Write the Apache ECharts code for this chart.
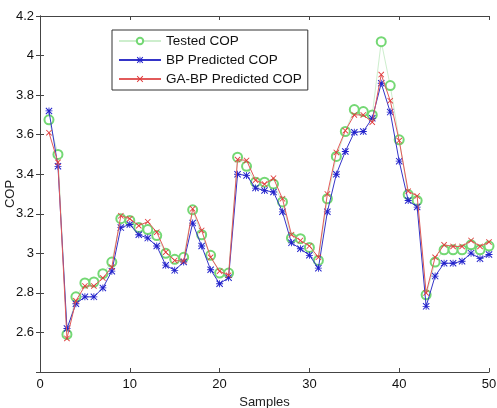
<!DOCTYPE html>
<html lang="en">
<head>
    <meta charset="UTF-8">
    <title>COP</title>
    <script src="https://cdn.jsdelivr.net/npm/echarts@6/dist/echarts.min.js"></script>
    <style>
        body { margin: 0; background: #fff; }
    </style>
</head>
<body>
<div style="width:497px;height:408px" id="picture"></div>
<script>
    // values, sample 1..50
    var samples = [];
    for (var i = 1; i <= 50; i++) samples.push(i);

    var tested = [3.675, 3.50, 2.59, 2.78, 2.85, 2.855, 2.897, 2.956, 3.175, 3.166,
        3.13, 3.12, 3.09, 3.00, 2.97, 2.98, 3.22, 3.094, 2.99, 2.90,
        2.90, 3.486, 3.44, 3.36, 3.36, 3.35, 3.26, 3.077, 3.074, 3.03,
        2.964, 3.276, 3.49, 3.616, 3.727, 3.717, 3.70, 4.07, 3.848, 3.574,
        3.297, 3.267, 2.79, 2.956, 3.018, 3.018, 3.018, 3.043, 3.018, 3.037];

    var bp = [3.72, 3.44, 2.62, 2.745, 2.78, 2.78, 2.825, 2.91, 3.13, 3.146,
        3.094, 3.077, 3.037, 2.94, 2.914, 2.956, 3.153, 3.037, 2.917, 2.846,
        2.877, 3.40, 3.394, 3.33, 3.318, 3.31, 3.21, 3.053, 3.023, 2.99,
        2.925, 3.21, 3.40, 3.515, 3.612, 3.616, 3.683, 3.86, 3.714, 3.466,
        3.267, 3.234, 2.732, 2.885, 2.95, 2.95, 2.96, 3.001, 2.973, 2.994];

    var gabp = [3.61, 3.46, 2.57, 2.76, 2.835, 2.835, 2.875, 2.93, 3.19, 3.175,
        3.14, 3.16, 3.107, 3.006, 2.964, 2.96, 3.225, 3.116, 2.98, 2.91,
        2.889, 3.474, 3.47, 3.37, 3.35, 3.38, 3.276, 3.094, 3.065, 3.037,
        2.98, 3.30, 3.51, 3.62, 3.70, 3.70, 3.663, 3.904, 3.772, 3.57,
        3.314, 3.29, 2.80, 2.98, 3.043, 3.035, 3.035, 3.065, 3.035, 3.057];

    var names = ['Tested COP', 'BP Predicted COP', 'GA-BP Predicted COP'];

    function pairs(arr) {
        var out = [];
        for (var k = 0; k < arr.length; k++) out.push([samples[k], arr[k]]);
        return out;
    }

    // matlab-ish markers
    var crossPath = 'path://M0,1 L1,0 L10,9 L9,10 Z M9,0 L10,1 L1,10 L0,9 Z';
    var starPath = 'path://M0,1 L1,0 L10,9 L9,10 Z M9,0 L10,1 L1,10 L0,9 Z M4.4,0 L5.6,0 L5.6,10 L4.4,10 Z M0,4.4 L10,4.4 L10,5.6 L0,5.6 Z';

    var axisCol = '#444';
    var font = 'Liberation Sans';

    var myChart = echarts.init(document.getElementById('picture'));
    var option = {
        animation: false,
        backgroundColor: '#fff',
        textStyle: { fontFamily: font },
        grid: { left: 40, right: 8, top: 16, bottom: 36, outerBoundsMode: 'none', containLabel: false },
        legend: {
            orient: 'vertical',
            left: 112,
            top: 30,
            data: names,
            itemWidth: 42,
            itemHeight: 8,
            itemGap: 5,
            padding: [4, 6, 4, 6],
            borderColor: '#333',
            borderWidth: 1,
            backgroundColor: '#fff',
            borderRadius: 0,
            textStyle: { fontFamily: font, fontSize: 13.5, color: '#111' }
        },
        xAxis: [{
            type: 'value',
            min: 0, max: 50, interval: 10,
            name: 'Samples',
            nameLocation: 'middle',
            nameGap: 24,
            nameMoveOverlap: false,
            nameTextStyle: { fontFamily: font, fontSize: 13, color: '#222' },
            axisLine: { show: true, lineStyle: { color: axisCol } },
            axisTick: { inside: true, length: 4, lineStyle: { color: axisCol } },
            axisLabel: { fontFamily: font, fontSize: 13, color: '#111', margin: 6 },
            splitLine: { show: false }
        }, {
            type: 'value', position: 'top',
            min: 0, max: 50, interval: 10,
            axisLine: { show: true, lineStyle: { color: axisCol } },
            axisTick: { inside: true, length: 4, lineStyle: { color: axisCol } },
            axisLabel: { show: false },
            splitLine: { show: false }
        }],
        yAxis: [{
            type: 'value',
            min: 2.4, max: 4.2, interval: 0.2,
            name: 'COP',
            nameLocation: 'middle',
            nameGap: 23,
            nameMoveOverlap: false,
            nameTextStyle: { fontFamily: font, fontSize: 13, color: '#222' },
            axisLine: { show: true, lineStyle: { color: axisCol } },
            axisTick: { inside: true, length: 4, lineStyle: { color: axisCol } },
            axisLabel: {
                fontFamily: font, fontSize: 13, color: '#111', margin: 6,
                formatter: function (v) {
                    if (Math.abs(v - 2.4) < 1e-6) return '';
                    return String(Math.round(v * 10) / 10);
                }
            },
            splitLine: { show: false }
        }, {
            type: 'value', position: 'right',
            min: 2.4, max: 4.2, interval: 0.2,
            axisLine: { show: true, lineStyle: { color: axisCol } },
            axisTick: { inside: true, length: 4, lineStyle: { color: axisCol } },
            axisLabel: { show: false },
            splitLine: { show: false }
        }],
        series: [
            {
                name: names[0],
                type: 'line',
                data: pairs(tested),
                symbol: 'emptyCircle',
                symbolSize: 9,
                itemStyle: { color: '#74d874', borderWidth: 0.8 },
                lineStyle: { color: '#cdeecd', width: 1 },
                z: 2
            },
            {
                name: names[1],
                type: 'line',
                data: pairs(bp),
                symbol: starPath,
                symbolSize: 7,
                itemStyle: { color: '#2222cc' },
                lineStyle: { color: '#3434c8', width: 1 },
                z: 3
            },
            {
                name: names[2],
                type: 'line',
                data: pairs(gabp),
                symbol: crossPath,
                symbolSize: 6,
                itemStyle: { color: '#e03a3a' },
                lineStyle: { color: '#e25a5a', width: 1 },
                z: 4
            }
        ]
    };
    myChart.setOption(option);
</script>
</body>
</html>
